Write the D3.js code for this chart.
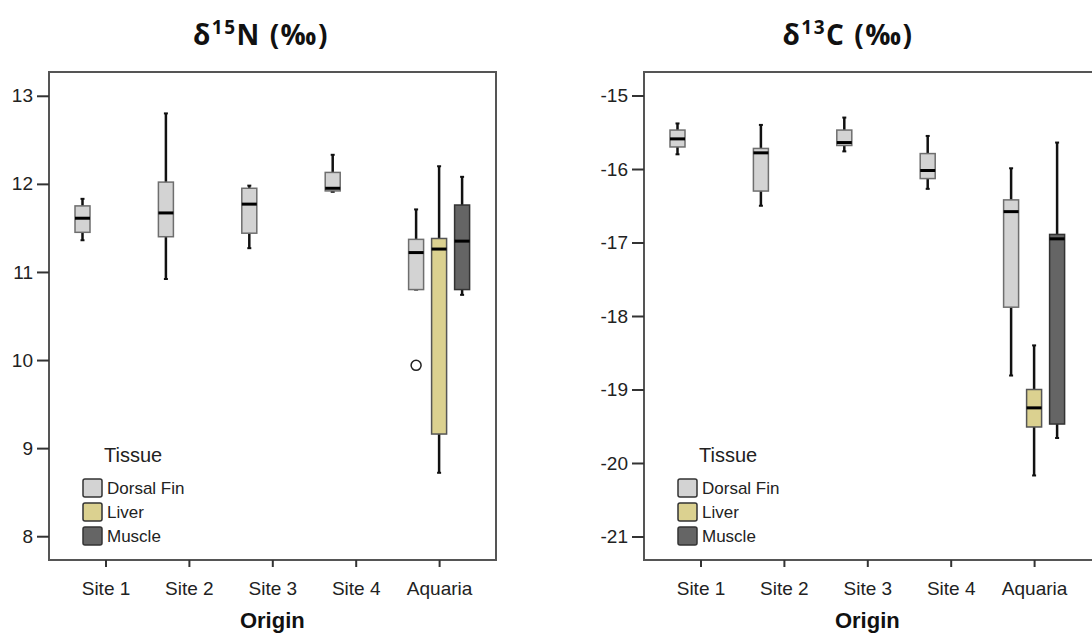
<!DOCTYPE html>
<html>
<head>
<meta charset="utf-8">
<script src="https://cdn.jsdelivr.net/npm/d3@7"></script>
<style>
  body { margin: 0; background: #fff; }
  svg { display: block; }
  .axis text { font-family: 'Liberation Sans', Arial, sans-serif; font-size: 19px; fill: #222; }
  .axis line { stroke: #333; stroke-width: 2; }
  .axis .domain { display: none; }
</style>
</head>
<body>
<div id="chart"></div>
<script>
const ORIGINS = ['Site 1', 'Site 2', 'Site 3', 'Site 4', 'Aquaria'];
const TISSUES = ['Dorsal Fin', 'Liver', 'Muscle'];

// [origin, tissue, low whisker, q1, median, q3, high whisker]
const N15_TICKS = [8, 9, 10, 11, 12, 13];
const N15_BOXES = [
  ['Site 1',  'Dorsal Fin', 11.36, 11.45, 11.61, 11.75, 11.83],
  ['Site 2',  'Dorsal Fin', 10.92, 11.40, 11.67, 12.02, 12.80],
  ['Site 3',  'Dorsal Fin', 11.27, 11.44, 11.77, 11.95, 11.98],
  ['Site 4',  'Dorsal Fin', 11.91, 11.92, 11.95, 12.13, 12.33],
  ['Aquaria', 'Dorsal Fin', 10.80, 10.80, 11.22, 11.37, 11.71],
  ['Aquaria', 'Liver',       8.72,  9.16, 11.26, 11.38, 12.20],
  ['Aquaria', 'Muscle',     10.74, 10.80, 11.35, 11.76, 12.08]
];
const N15_OUTLIERS = [['Aquaria', 'Dorsal Fin', 9.94]];

const C13_TICKS = [-21, -20, -19, -18, -17, -16, -15];
const C13_BOXES = [
  ['Site 1',  'Dorsal Fin', -15.80, -15.70, -15.59, -15.47, -15.38],
  ['Site 2',  'Dorsal Fin', -16.50, -16.30, -15.78, -15.72, -15.40],
  ['Site 3',  'Dorsal Fin', -15.76, -15.68, -15.64, -15.47, -15.30],
  ['Site 4',  'Dorsal Fin', -16.27, -16.13, -16.02, -15.79, -15.55],
  ['Aquaria', 'Dorsal Fin', -18.81, -17.88, -16.58, -16.42, -15.99],
  ['Aquaria', 'Liver',      -20.17, -19.51, -19.25, -19.00, -18.40],
  ['Aquaria', 'Muscle',     -19.66, -19.47, -16.95, -16.89, -15.64]
];
const C13_OUTLIERS = [];

const WIDTH = 1092, HEIGHT = 635;
const FRAME = { top: 72, bottom: 560 };
const STEP = 83.4, INSET = 56.5;
const BOX = { width: 15, offset: 23, cap: 4 };

const COLORS = {
  fill: { 'Dorsal Fin': '#d3d3d3', 'Liver': '#dbd190', 'Muscle': '#656565' },
  stroke: { 'Dorsal Fin': '#6e6e6e', 'Liver': '#555', 'Muscle': '#333' },
  frame: '#555',
  whisker: '#111',
  text: '#222'
};

const PANELS = [
  { left: 49, width: 447, title: ['δ', '15', 'N (‰)'], titleX: 261,
    domain: [7.73, 13.27], ticks: N15_TICKS, boxes: N15_BOXES, outliers: N15_OUTLIERS },
  { left: 644, width: 470, title: ['δ', '13', 'C (‰)'], titleX: 848,
    domain: [-21.32, -14.68], ticks: C13_TICKS, boxes: C13_BOXES, outliers: C13_OUTLIERS }
];

const svg = d3.select('#chart').append('svg')
  .attr('width', WIDTH)
  .attr('height', HEIGHT);

svg.append('rect')
  .attr('width', WIDTH)
  .attr('height', HEIGHT)
  .attr('fill', '#fff');

function drawPanel(p) {
  let g = svg.append('g');

  let x = d3.scalePoint()
    .domain(ORIGINS)
    .range([p.left + INSET, p.left + INSET + STEP * (ORIGINS.length - 1)]);
  let t = d3.scalePoint()
    .domain(TISSUES)
    .range([-BOX.offset, BOX.offset]);
  let y = d3.scaleLinear()
    .domain(p.domain)
    .range([FRAME.bottom, FRAME.top]);

  // Title
  let title = g.append('text')
    .attr('x', p.titleX)
    .attr('y', 45)
    .attr('text-anchor', 'middle')
    .attr('font-family', "'Open Sans', sans-serif")
    .attr('font-weight', 'bold')
    .attr('font-size', 28)
    .attr('letter-spacing', 1.5)
    .attr('fill', '#111');
  title.append('tspan').text(p.title[0]);
  title.append('tspan').text(p.title[1]).attr('font-size', 19).attr('dy', -11);
  title.append('tspan').text(p.title[2]).attr('dy', 11);

  // Frame
  g.append('rect')
    .attr('x', p.left)
    .attr('y', FRAME.top)
    .attr('width', p.width)
    .attr('height', FRAME.bottom - FRAME.top)
    .attr('fill', 'none')
    .attr('stroke', COLORS.frame)
    .attr('stroke-width', 2);

  // Axes
  g.append('g')
    .attr('class', 'axis')
    .attr('transform', `translate(${p.left},0)`)
    .call(d3.axisLeft(y).tickValues(p.ticks).tickSize(12).tickPadding(4).tickFormat(d => String(d)));

  g.append('g')
    .attr('class', 'axis')
    .attr('transform', `translate(0,${FRAME.bottom})`)
    .call(d3.axisBottom(x).tickSize(7).tickPadding(14.5));

  g.append('text')
    .text('Origin')
    .attr('x', (x.range()[0] + x.range()[1]) / 2)
    .attr('y', 628)
    .attr('text-anchor', 'middle')
    .attr('font-family', "'Liberation Sans', Arial, sans-serif")
    .attr('font-weight', 'bold')
    .attr('font-size', 22)
    .attr('fill', '#111');

  // Boxes
  let boxes = g.selectAll('.box')
      .data(p.boxes)
    .enter().append('g')
      .attr('class', 'box')
      .attr('transform', d => `translate(${x(d[0]) + t(d[1])},0)`);

  boxes.each(function(d) {
    let b = d3.select(this);
    let [, tissue, lo, q1, med, q3, hi] = d;

    for (let [a, c] of [[lo, q1], [q3, hi]]) {
      b.append('line')
        .attr('x1', 0).attr('x2', 0)
        .attr('y1', y(a)).attr('y2', y(c))
        .attr('stroke', COLORS.whisker)
        .attr('stroke-width', 2.5);
    }
    for (let v of [lo, hi]) {
      b.append('line')
        .attr('x1', -BOX.cap / 2).attr('x2', BOX.cap / 2)
        .attr('y1', y(v)).attr('y2', y(v))
        .attr('stroke', COLORS.whisker)
        .attr('stroke-width', 2);
    }

    b.append('rect')
      .attr('x', -BOX.width / 2)
      .attr('y', y(q3))
      .attr('width', BOX.width)
      .attr('height', Math.max(y(q1) - y(q3), 1))
      .attr('fill', COLORS.fill[tissue])
      .attr('stroke', COLORS.stroke[tissue])
      .attr('stroke-width', 1.5);

    b.append('line')
      .attr('x1', -BOX.width / 2).attr('x2', BOX.width / 2)
      .attr('y1', y(med)).attr('y2', y(med))
      .attr('stroke', '#000')
      .attr('stroke-width', 3);
  });

  // Outliers
  g.selectAll('.outlier')
      .data(p.outliers)
    .enter().append('circle')
      .attr('class', 'outlier')
      .attr('cx', d => x(d[0]) + t(d[1]))
      .attr('cy', d => y(d[2]))
      .attr('r', 5)
      .attr('fill', '#fff')
      .attr('stroke', '#222')
      .attr('stroke-width', 1.5);

  // Legend
  let legend = g.append('g')
    .attr('transform', `translate(${p.left + 34},462)`);
  legend.append('text')
    .text('Tissue')
    .attr('x', 21)
    .attr('y', 0)
    .attr('font-family', "'Liberation Sans', Arial, sans-serif")
    .attr('font-size', 20)
    .attr('fill', COLORS.text);

  let items = legend.selectAll('.item')
      .data(TISSUES)
    .enter().append('g')
      .attr('class', 'item')
      .attr('transform', (d, i) => `translate(0,${17 + i * 24})`);
  items.append('rect')
    .attr('width', 19)
    .attr('height', 18)
    .attr('rx', 2)
    .attr('fill', d => COLORS.fill[d])
    .attr('stroke', '#333')
    .attr('stroke-width', 1.5);
  items.append('text')
    .text(d => d)
    .attr('x', 24)
    .attr('y', 15)
    .attr('font-family', "'Liberation Sans', Arial, sans-serif")
    .attr('font-size', 17)
    .attr('fill', COLORS.text);
}

for (let p of PANELS) {
  drawPanel(p);
}
</script>
</body>
</html>
